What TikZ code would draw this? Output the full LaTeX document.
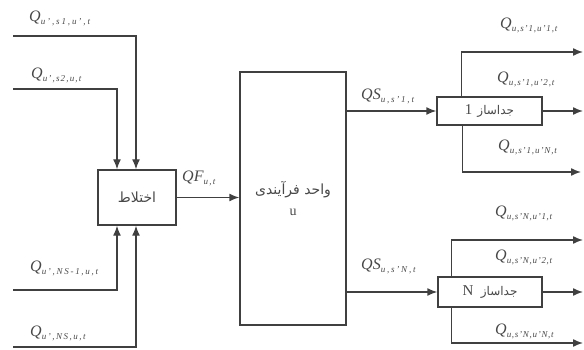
\documentclass[tikz,border=0pt]{standalone}
\usepackage{fontspec}
\setmainfont{Liberation Serif}
\newfontfamily\arabicfont[Script=Arabic]{DejaVu Sans}
\TeXXeTstate=1
\usetikzlibrary{arrows.meta}
% \qlab[letterspace]{size}{main}{subscript}
\newcommand{\qlab}[4][12]{{\itshape\fontsize{#2}{#2}\selectfont #3}\raisebox{-3pt}{\itshape\fontsize{9}{9}\selectfont\addfontfeature{LetterSpace=#1}#4}}
\definecolor{ln}{HTML}{404040}
\definecolor{tx}{HTML}{484848}
\tikzset{
  box/.style={draw=ln, line width=1.4pt, inner sep=0pt, align=center, text=tx},
  wire/.style={draw=ln, line width=1.4pt},
  arr/.style={wire, -{Latex[length=10pt,width=8pt]}},
  lab/.style={inner sep=0pt, text=tx, anchor=west}
}
\begin{document}
\begin{tikzpicture}[x=1pt,y=-1pt]
\useasboundingbox (0,0) rectangle (584,350);
% boxes
\node[box, minimum width=78pt, minimum height=55pt] (mix) at (137,197.5)
  {\arabicfont\fontsize{14}{16}\selectfont\beginR اختلاط\endR};
\node[box, minimum width=106pt, minimum height=253pt, font=\fontsize{14}{21}\selectfont] (proc) at (293,198.5)
  {{\arabicfont\beginR واحد فرآیندی\endR}\\u};
\node[box, minimum width=105pt, minimum height=28pt] (s1) at (489.5,111)
  {\beginR{\arabicfont\fontsize{12}{14}\selectfont جداساز}\ \ {\fontsize{15}{15}\selectfont 1}\endR};
\node[box, minimum width=104pt, minimum height=30pt] (sN) at (490,292)
  {\beginR{\arabicfont\fontsize{12}{14}\selectfont جداساز}\ \ \ {\fontsize{15}{15}\selectfont N}\endR};
% free ends
\coordinate (in1) at (13,36);
\coordinate (in2) at (13,89);
\coordinate (in3) at (13,290);
\coordinate (in4) at (13,347);
\coordinate (o11) at (583,52);
\coordinate (o12) at (583,111);
\coordinate (o1N) at (581,172);
\coordinate (oN1) at (583,240);
\coordinate (oN2) at (583,292);
\coordinate (oNN) at (583,343);
% inputs to mixer
\draw[arr] (in1) -| ([xshift=-1pt]mix.north);
\draw[arr] (in2) -| ([xshift=-20pt]mix.north);
\draw[arr] (in3) -| ([xshift=-20pt]mix.south);
\draw[arr] (in4) -| ([xshift=-1pt]mix.south);
% mixer to process
\draw[arr] (mix.east) -- (mix.east -| proc.west);
% process to separators
\draw[arr] (proc.east |- s1.west) -- (s1.west);
\draw[arr] (proc.east |- sN.west) -- (sN.west);
% separator 1 outputs
\draw[arr] ([xshift=25pt]s1.north west) |- (o11);
\draw[arr] (s1.east) -- (o12);
\draw[arr] ([xshift=26pt]s1.south west) |- (o1N);
% separator N outputs
\draw[arr] ([xshift=14pt]sN.north west) |- (oN1);
\draw[arr] (sN.east) -- (oN2);
\draw[arr] ([xshift=14pt]sN.south west) |- (oNN);
% labels
\node[lab] (l1) at (29,18) {\qlab[21]{16}{Q}{u',s1,u',t}};
\node[lab] (l2) at (31,75) {\qlab[13]{16}{Q}{u',s2,u,t}};
\node[lab] (l3) at (30,268) {\qlab[19]{16}{Q}{u',NS-1,u,t}};
\node[lab] (l4) at (30,333) {\qlab[17]{16}{Q}{u',NS,u,t}};
\node[lab] (lf) at (182,178) {\qlab[15]{16}{QF}{u,t}};
\node[lab] (ls1) at (361,96) {\qlab[20]{16}{QS}{u,s'1,t}};
\node[lab] (lsN) at (361,266) {\qlab[20]{16}{QS}{u,s'N,t}};
\node[lab] (r11) at (500,25) {\qlab[10]{16}{Q}{u,s'1,u'1,t}};
\node[lab] (r12) at (497,79) {\qlab[10]{16}{Q}{u,s'1,u'2,t}};
\node[lab] (r1N) at (498,147) {\qlab[10]{16}{Q}{u,s'1,u'N,t}};
\node[lab] (rN1) at (495,213) {\qlab[8]{16}{Q}{u,s'N,u'1,t}};
\node[lab] (rN2) at (495,257) {\qlab[8]{16}{Q}{u,s'N,u'2,t}};
\node[lab] (rNN) at (495,331) {\qlab[8]{16}{Q}{u,s'N,u'N,t}};
\end{tikzpicture}
\end{document}
